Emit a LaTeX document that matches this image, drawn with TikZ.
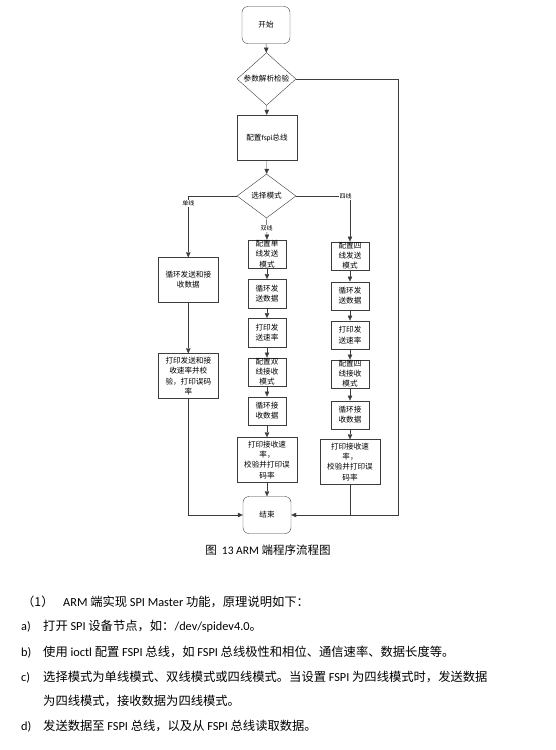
\documentclass[tikz,border=0pt]{standalone}
\usepackage{fontspec}
\setmainfont{Noto Sans CJK SC}
\newfontfamily\latin{Carlito}
\usepackage{xcolor}
\usepackage{tikz}
\usetikzlibrary{arrows.meta,calc,positioning,shapes.geometric}
\definecolor{linegray}{HTML}{3C3C3C}

\begin{document}
\begin{tikzpicture}[x=1pt,y=-1pt,
  every node/.style={font=\fontsize{7.6}{10.2}\selectfont, align=center, inner sep=0pt},
  flowbox/.style={draw=linegray, minimum width=60pt, minimum height=45pt},
  thinbox/.style={draw=linegray, minimum width=38pt, minimum height=28.5pt},
  endbox/.style={draw=linegray, rounded corners=6pt, minimum width=48pt, minimum height=37pt},
  check/.style={draw=linegray, diamond, minimum width=59pt, minimum height=44pt},
  flow/.style={draw=linegray, -{Triangle[length=5pt,width=4.5pt]}},
  branch/.style={fill=white, inner sep=1pt, font=\fontsize{6}{7}\selectfont},
  para/.style={anchor=west, align=left, font=\fontsize{12.3}{14}\selectfont}]
  \useasboundingbox (0,0) rectangle (555,750);

  % main line
  \node[endbox] (start) at (266,25) {开始};
  \node[check] (parse) at (266.5,79) {参数解析检验};
  \node[flowbox] (cfg) at (267,137.5) {配置{\latin fspi}总线};
  \node[check] (mode) at (266.5,196) {选择模式};

  % single line
  \node[flowbox] (loop1) at (188.3,280) {循环发送和接\\收数据};
  \node[flowbox] (print1) at (188.3,376) {打印发送和接\\收速率并校\\验，打印误码\\率};

  % dual line
  \node[thinbox] (cfgtx2) at (267,254) {配置单\\线发送\\模式};
  \node[thinbox] (tx2) at (267,293.5) {循环发\\送数据};
  \node[thinbox] (rate2) at (267,332.5) {打印发\\送速率};
  \node[thinbox] (cfgrx2) at (267,372) {配置双\\线接收\\模式};
  \node[thinbox] (rx2) at (267,411) {循环接\\收数据};
  \node[flowbox] (print2) at (267,460) {打印接收速\\率，\\校验并打印误\\码率};
  \node[endbox] (stop) at (267,515) {结束};

  % quad line
  \node[thinbox] (cfgtx4) at (350,256) {配置四\\线发送\\模式};
  \node[thinbox] (tx4) at (350,296) {循环发\\送数据};
  \node[thinbox] (rate4) at (350,335) {打印发\\送速率};
  \node[thinbox] (cfgrx4) at (350,374) {配置四\\线接收\\模式};
  \node[thinbox] (rx4) at (350,415) {循环接\\收数据};
  \node[flowbox] (print4) at (350,462) {打印接收速\\率，\\校验并打印误\\码率};

  \coordinate (rail) at (398,0);

  \draw[flow] (start) -- (parse);
  \draw[flow] (parse) -- (cfg);
  \draw[flow] (cfg) -- (mode);
  \draw[flow] (mode.west) -| node[branch, pos=0.56] {单线} (loop1.north);
  \draw[flow] (mode.south) -- node[branch, pos=0.48] {双线} (cfgtx2.north);
  \draw[flow] (mode.east) -| node[branch, pos=0.46] {四线} (cfgtx4.north);
  \draw[flow] (loop1) -- (print1);
  \foreach \a/\b in {cfgtx2/tx2, tx2/rate2, rate2/cfgrx2, cfgrx2/rx2, rx2/print2, print2/stop,
                     cfgtx4/tx4, tx4/rate4, rate4/cfgrx4, cfgrx4/rx4, rx4/print4}
    \draw[flow] (\a) -- (\b);
  \draw[flow] (print1.south) |- (stop.west);
  \draw[flow] (parse.east) -- (parse.east -| rail) -- (stop.east -| rail) -- (stop.east);
  \draw[linegray] (print4.south) -- (print4.south |- stop.east);

  % caption and text
  \node[font=\fontsize{11.5}{13}\selectfont] (caption) at (268,550) {图\hspace{5pt}{\latin 13 ARM} 端程序流程图};
  \node[para] (line0) at (22,601.7) {\makebox[41pt][l]{（1）}{\latin ARM} 端实现 {\latin SPI Master} 功能，原理说明如下：};
  \node[para] (linea) at (21,626.7) {\makebox[22pt][l]{\latin a)}打开 {\latin SPI} 设备节点，如：{\latin /dev/spidev4.0}。};
  \node[para] (lineb) at (21,651.7) {\makebox[22pt][l]{\latin b)}使用 {\latin ioctl} 配置 {\latin FSPI} 总线，如 {\latin FSPI} 总线极性和相位、通信速率、数据长度等。};
  \node[para] (linec) at (21,676.7) {\makebox[22pt][l]{\latin c)}选择模式为单线模式、双线模式或四线模式。当设置 {\latin FSPI} 为四线模式时，发送数据};
  \node[para] (linec2) at (43,700.7) {为四线模式，接收数据为四线模式。};
  \node[para] (lined) at (21,726) {\makebox[22pt][l]{\latin d)}发送数据至 {\latin FSPI} 总线，以及从 {\latin FSPI} 总线读取数据。};
\end{tikzpicture}
\end{document}
